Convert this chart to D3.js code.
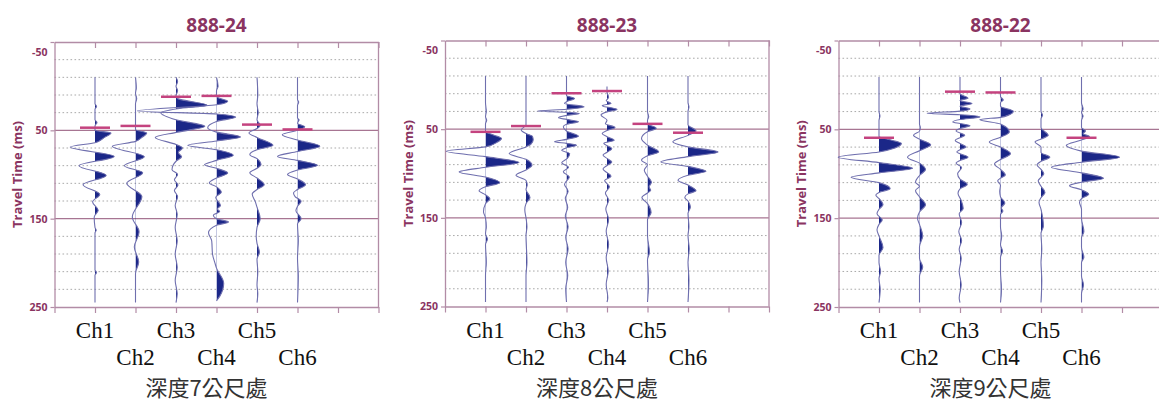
<!DOCTYPE html>
<html>
<head>
<meta charset="utf-8">
<script src="https://cdn.jsdelivr.net/npm/d3@7"></script>
<style>
  body { margin: 0; background: #fff; }
  svg { display: block; }
</style>
</head>
<body>
<svg id="chart" width="1159" height="403"></svg>
<script>
// ---- Survey sections and labels ----
const panelTitles = ["888-24", "888-23", "888-22"];
const panelDepths = ["深度7公尺處", "深度8公尺處", "深度9公尺處"];
const channels = ["Ch1", "Ch2", "Ch3", "Ch4", "Ch5", "Ch6"];
const timeTicks = [-50, 50, 150, 250];
const majorGrid = [50, 150];
const minorGrid = [-30, -10, 10, 30, 70, 90, 110, 130, 170, 190, 210, 230];
const axisTitle = "Travel Time (ms)";

// ---- Wiggle traces: [travel time (ms), normalised amplitude] ----
const traces24 = [
  [[-10,0],[20,0],[23,0.02],[26,0],[38,0],[41,0.025],[45,0],[50,0],[53,0.2],[58,0.12],[64,0],[69,-0.31],[79.5,0.24],[90,-0.2],[101,0.14],[111.5,-0.15],[122.5,0.06],[131,-0.03],[140.5,0.04],[148,-0.01],[160,0],[163,0.015],[166,0],[208,0],[211,0.02],[214,0],[245,0]],
  [[-10,0],[2,0.01],[8,0],[14,0.015],[20,0],[44,0],[49,0],[53,0.14],[58,0.08],[62.5,0],[68,-0.29],[80,0.11],[90,-0.14],[98,0.09],[110,-0.11],[125,0.08],[148,-0.04],[165,0.045],[182,-0.015],[199,0.04],[212,0],[245,0]],
  [[-10,0],[-5,0.02],[0,0],[5,0.02],[11,0],[14,0.02],[21.5,0.39],[25.5,0.02],[30,-0.19],[38,0],[45.5,0.36],[52,0.02],[58,-0.26],[66,0],[70,0.08],[75,0.03],[80,0.07],[85,0],[94.5,-0.05],[100,0.02],[106,-0.02],[112,0.025],[118,-0.02],[125,0.02],[135,-0.01],[145,0.015],[160,-0.01],[175,0.015],[190,-0.01],[205,0.015],[220,-0.01],[235,0.015],[245,0]],
  [[-10,0],[0,0.02],[5,0],[10,0],[13,0.02],[17,0.14],[21,0],[28,-0.99],[31.5,0],[35,0.24],[40,0],[47,-0.11],[52,0],[57.5,0.3],[62,0],[67,-0.36],[72,0],[78.3,0.21],[84,0],[89,-0.15],[93,0],[98.3,0.14],[104,0],[109.6,-0.09],[114,0],[120,0.06],[126,-0.01],[135,0.05],[139,0.01],[142,0.04],[146,-0.04],[150,0],[153.8,0.15],[157.5,0],[166,-0.1],[175,-0.06],[190,-0.05],[200,-0.02],[206,0],[223,0.09],[238,0.04],[243,0]],
  [[-10,0],[10,0.01],[20,0],[30,0.015],[38,0],[44.5,0.04],[48,0],[53,-0.1],[58,0],[67,0.2],[72,0],[77.5,-0.09],[82,0],[89,0.05],[93,0],[98,-0.09],[104,0],[111.5,0.09],[117,0],[122,-0.06],[131,-0.02],[137,0],[150,0.04],[160,0],[170,-0.01],[178,0],[188,0.03],[196,0],[210,0.01],[225,0],[235,0.01],[245,0]],
  [[-10,0],[15,0],[18,0.015],[22,0],[36,0],[38,0.02],[42,0],[46,0.09],[50,0],[55,-0.19],[61,0],[68,0.28],[74,0],[79.5,-0.25],[84,0],[89.6,0.25],[95,0],[100,-0.125],[105,0],[111.5,0.1],[117,0],[121,-0.05],[125,-0.03],[130.4,0.045],[136,0],[141,-0.02],[150,0.045],[156,0],[175,0.01],[195,0],[215,0.01],[245,0]]
];

const traces23 = [
  [[-10,0],[20,0],[30,0.01],[36,0],[40,0.015],[44,0],[53,0],[56.5,0.1],[60.5,0.2],[65,0.14],[70,0],[75,-0.49],[81,0],[87.7,0.42],[93,0],[98.3,-0.33],[104,0],[110.4,0.18],[115,0],[119.5,-0.08],[124,0],[128.5,0.055],[134,0],[143,-0.025],[150,0],[160,0.01],[168,0],[174,0.025],[180,0],[200,0.01],[215,0],[245,0]],
  [[-10,0],[45,0],[51,-0.06],[55,0],[58,0.08],[62,0.09],[67,0.06],[70,0],[77.5,-0.21],[84,0],[90.8,0.075],[96,0],[102,-0.125],[108,0],[113,0.015],[118,0],[127,0.05],[134,0],[141,-0.015],[150,0],[160,0.012],[170,0],[200,0.012],[215,0],[245,0]],
  [[-10,0],[9,0],[12,0],[15.3,0.1],[19,0],[21,-0.025],[24.7,0.22],[27.5,0],[29.6,-0.37],[31,0],[32.3,0.16],[34.5,0],[37,-0.1],[39,0],[41.7,0.15],[44.5,0],[47.4,-0.04],[52,0],[58,0.15],[61.5,0],[64.3,-0.15],[66,0],[68,0.125],[71,0],[73.8,-0.06],[77.5,0.04],[83,0.01],[88,-0.06],[93,0.025],[98,-0.04],[104,0.035],[112,-0.025],[120,0.02],[128,-0.015],[138,0.015],[148,-0.015],[160,0.02],[172,-0.01],[185,0.02],[200,-0.01],[215,0.015],[230,-0.01],[245,0]],
  [[2,0],[8,0],[14,0.02],[18,-0.01],[21,0.05],[23.5,-0.06],[27.7,0.125],[30.5,0],[34,-0.075],[40,0],[44,-0.02],[48,0.1],[51.5,0],[55,-0.06],[58.5,0],[62.5,0.09],[66,-0.04],[72,0.06],[76,0],[79,-0.05],[83,0],[87,0.06],[91,0],[95,-0.05],[99,0],[103,0.05],[108,-0.03],[115,0.03],[122,-0.02],[130,0.02],[140,-0.015],[152,0.02],[165,-0.01],[180,0.02],[195,-0.01],[210,0.015],[225,-0.01],[240,0.01],[245,0]],
  [[-10,0],[30,0],[36,0.015],[40,0],[44,0],[49,0.11],[53,0],[60.6,-0.075],[68,0],[75.7,0.14],[80,0],[85,-0.075],[90,0],[96.4,-0.04],[103,0],[110,0.05],[115,0.02],[119,0.04],[122,0],[127,-0.07],[134,0],[144,0.045],[152,0],[170,0],[189,0.025],[197,0],[225,0.012],[245,0]],
  [[-10,0],[20,0],[25,0.012],[30,0],[45,0],[52,0.1],[57,0],[64.3,-0.19],[70,0],[75.7,0.375],[81,0],[87,-0.34],[92,0],[97.6,0.225],[102,0],[107.7,-0.125],[113,0],[119.5,0.1],[123,0],[127,-0.04],[131,0],[137.8,0.03],[145,0],[160,0.012],[170,0],[185,0.015],[200,0],[220,0.012],[245,0]]
];

const traces22 = [
  [[-9,0],[30,0],[35,0.012],[40,0],[58,0],[62,0.15],[66,0.28],[71,0.2],[75.5,0],[81.3,-0.51],[87.5,0],[93.8,0.42],[99,0],[104,-0.35],[110,0],[117,0.14],[121,0],[124,-0.04],[128,0],[135,0.05],[140,0],[145,-0.025],[152,0.04],[157,0],[163,-0.025],[170,0],[183,0.05],[192,0],[200,0],[210,0.02],[218,0],[230,0.015],[245,0]],
  [[-9,0],[44,0],[48,0.01],[52,0],[56.8,-0.075],[61,0],[67.4,0.14],[74,0],[81.3,-0.15],[88,0],[95.3,0.075],[102,0],[109.6,-0.05],[114,0],[119,-0.05],[126,0],[135,0.075],[143,0],[150,-0.025],[157,0],[170,0.04],[182,0],[195,0],[205,0.04],[215,0],[245,0]],
  [[-9,0],[7,0],[10,0],[15,0.1],[17.5,0],[21,0.15],[24,0],[27,0.125],[29.5,0],[32,-0.41],[33.5,0],[36,0.25],[39,0],[41.7,-0.09],[43.5,0],[46,0.125],[49,0],[52,-0.05],[54,0],[56.8,0.06],[59.5,0],[62.5,-0.06],[66,0],[70,0.075],[73,0],[75.5,-0.04],[77.5,0],[81.3,0.1],[85,0],[88,-0.05],[93,0.02],[100,-0.03],[106,0],[112,0.09],[117,0],[122,-0.025],[130,0.015],[139,0.04],[145,-0.01],[155,0.02],[165,-0.015],[175,0.02],[185,-0.01],[195,0.015],[210,-0.01],[225,0.015],[240,-0.01],[245,0]],
  [[-9,0],[9,0],[13,0],[17,0.035],[20,0],[24,0],[29.6,0.16],[34,0.1],[36.5,0],[39,-0.26],[44,0],[53,0.11],[59,0],[64.3,-0.14],[70,0],[77.5,0.125],[84,0],[89,-0.075],[95,0],[101.3,0.06],[105,0],[108,-0.035],[113,0],[120,-0.01],[126,0],[133,0.055],[138.5,0.01],[142,0.03],[146,0],[160,0],[170,0.015],[180,0],[187,0.025],[194,0],[210,0],[230,0.012],[245,0]],
  [[-9,0],[30,0],[34,0.02],[38,0],[48,0],[56.8,0.09],[61,0],[64.3,-0.075],[70,0],[76,0],[81.3,0.11],[86,0],[90,-0.05],[95,0],[100,0.035],[104,0],[108,-0.035],[114,0],[121,0.05],[127,0],[132,-0.025],[140,0],[159,0.03],[167,0],[185,0.01],[200,0],[220,0.01],[245,0]],
  [[-9,0],[20,0],[27,0.02],[31,0],[35,0.02],[40,0],[48,0],[52,0.05],[55,0.02],[58,0.1],[62,0],[68,-0.19],[74.5,0],[81.3,0.475],[87,0],[92.6,-0.375],[99,0],[105,0.275],[109.5,0],[113.4,-0.15],[118,0],[123,0.09],[128,0],[132,-0.025],[140,0],[150,0],[165,0.03],[172,0],[183,0],[194,0.03],[200,0],[215,0],[225,0.025],[235,0],[245,0]]
];

// ---- First-break picks (ms); null where no pick was made ----
const picks24 = [47, 45, 12, 11, 43.5, 49];
const picks23 = [53, 46.5, 9.5, 7, 44, 54];
const picks22 = [59.5, null, 7.6, 8.5, null, 59.5];

// ---- Layout and styling ----
const panels = [
  { title: panelTitles[0], depth: panelDepths[0], traces: traces24, picks: picks24, left: 54.5, top: 42,   bottom: 307 },
  { title: panelTitles[1], depth: panelDepths[1], traces: traces23, picks: picks23, left: 445,  top: 40.5, bottom: 306.5 },
  { title: panelTitles[2], depth: panelDepths[2], traces: traces22, picks: picks22, left: 838.5, top: 40.5, bottom: 307 }
];
const plotWidth = 324;
const maroon = "#8a3461";
const frameColor = "#b28ca6";
const majorColor = "#a77592";
const minorColor = "#a9a9a9";
const traceColor = "#6f6fae";
const fillColor = "#1b2788";
const pickColor = "#c4437f";

const svg = d3.select("#chart");
const defs = svg.append("defs");
const amp = d3.scaleLinear().domain([-1, 1]).range([-80, 80]);

panels.forEach((p, pi) => {
  const x = d3.scaleLinear().domain([0, 8]).range([p.left, p.left + plotWidth]);
  const y = d3.scaleLinear().domain([-50, 250]).range([p.top, p.bottom]);
  const g = svg.append("g").attr("class", "panel");

  // grid
  g.append("g").selectAll("line").data(minorGrid).join("line")
    .attr("x1", x(0)).attr("x2", x(8))
    .attr("y1", d => y(d)).attr("y2", d => y(d))
    .attr("stroke", minorColor).attr("stroke-width", 1)
    .attr("stroke-dasharray", "1.6,2.4");
  g.append("g").selectAll("line").data(majorGrid).join("line")
    .attr("x1", x(0)).attr("x2", x(8))
    .attr("y1", d => y(d)).attr("y2", d => y(d))
    .attr("stroke", majorColor).attr("stroke-width", 1.4);

  // axes / frame
  const channelStops = d3.range(0, 9);
  const topAxis = g.append("g").attr("transform", `translate(0,${y(-50)})`)
    .call(d3.axisTop(x).tickValues(channelStops.slice(1)).tickSize(-6).tickSizeOuter(0).tickFormat(""));
  const bottomAxis = g.append("g").attr("transform", `translate(0,${y(250)})`)
    .call(d3.axisBottom(x).tickValues(channelStops).tickSize(6).tickSizeOuter(0).tickFormat(""));
  const leftAxis = g.append("g").attr("transform", `translate(${x(0)},0)`)
    .call(d3.axisLeft(y).tickValues(timeTicks).tickSize(4).tickSizeOuter(0).tickPadding(3)
      .tickFormat(d => String(d)));
  g.append("line").attr("x1", x(8)).attr("x2", x(8)).attr("y1", y(-50)).attr("y2", y(250))
    .attr("stroke", frameColor).attr("stroke-width", 1.3);
  [topAxis, bottomAxis, leftAxis].forEach(a => {
    a.select(".domain").attr("stroke", frameColor).attr("stroke-width", 1.3);
    a.selectAll(".tick line").attr("stroke", frameColor).attr("stroke-width", 1.2);
  });
  leftAxis.selectAll(".tick text")
    .attr("fill", maroon)
    .style("font-family", "'Open Sans', sans-serif")
    .style("font-weight", 700)
    .style("font-size", "10.5px");
  leftAxis.selectAll(".tick").filter(d => d === -50).select("text")
    .attr("transform", "translate(0,10)");

  // axis title
  g.append("text")
    .attr("transform", `translate(${x(0) - 37},${(y(-50) + y(250)) / 2}) rotate(-90)`)
    .attr("text-anchor", "middle").attr("dy", "0.35em")
    .attr("fill", maroon)
    .style("font-family", "'Open Sans', sans-serif")
    .style("font-weight", 700).style("font-size", "13px")
    .text(axisTitle);

  // panel title
  g.append("text")
    .attr("x", x(0) + 162).attr("y", 31.5)
    .attr("text-anchor", "middle").attr("fill", maroon)
    .style("font-family", "'Open Sans', sans-serif")
    .style("font-weight", 700).style("font-size", "19px")
    .text(p.title);

  // wiggle traces
  p.traces.forEach((tr, ci) => {
    const cx = x(ci + 1);
    const clipId = `pos-${pi}-${ci}`;
    defs.append("clipPath").attr("id", clipId)
      .append("rect").attr("x", cx).attr("y", 0).attr("width", 200).attr("height", 403);
    const area = d3.area()
      .y(d => y(d[0]))
      .x0(cx)
      .x1(d => cx + amp(d[1]))
      .curve(d3.curveMonotoneY);
    const line = d3.line()
      .y(d => y(d[0]))
      .x(d => cx + amp(d[1]))
      .curve(d3.curveMonotoneY);
    g.append("path").datum(tr)
      .attr("d", area)
      .attr("fill", fillColor)
      .attr("clip-path", `url(#${clipId})`);
    g.append("path").datum(tr)
      .attr("d", line)
      .attr("fill", "none")
      .attr("stroke", traceColor)
      .attr("stroke-width", 1.1);
  });

  // first-break picks
  g.append("g").selectAll("line")
    .data(p.picks.map((t, ci) => ({ t, ci })).filter(d => d.t !== null))
    .join("line")
    .attr("x1", d => x(d.ci + 1) - 15).attr("x2", d => x(d.ci + 1) + 15)
    .attr("y1", d => y(d.t)).attr("y2", d => y(d.t))
    .attr("stroke", pickColor).attr("stroke-width", 2.5);

  // channel labels, staggered on two rows
  g.append("g").selectAll("text").data(channels).join("text")
    .attr("x", (d, i) => x(i + 1))
    .attr("y", (d, i) => i % 2 === 0 ? 338 : 365)
    .attr("text-anchor", "middle")
    .attr("fill", "#111")
    .style("font-family", "'Liberation Serif', 'Times New Roman', serif")
    .style("font-size", "23px")
    .text(d => d);

  // depth caption
  g.append("text")
    .attr("x", x(0) + 152).attr("y", 395.5)
    .attr("text-anchor", "middle").attr("fill", "#333")
    .style("font-family", "'Noto Sans CJK TC', 'Noto Sans', sans-serif")
    .style("font-size", "22px")
    .text(p.depth);
});
</script>
</body>
</html>
